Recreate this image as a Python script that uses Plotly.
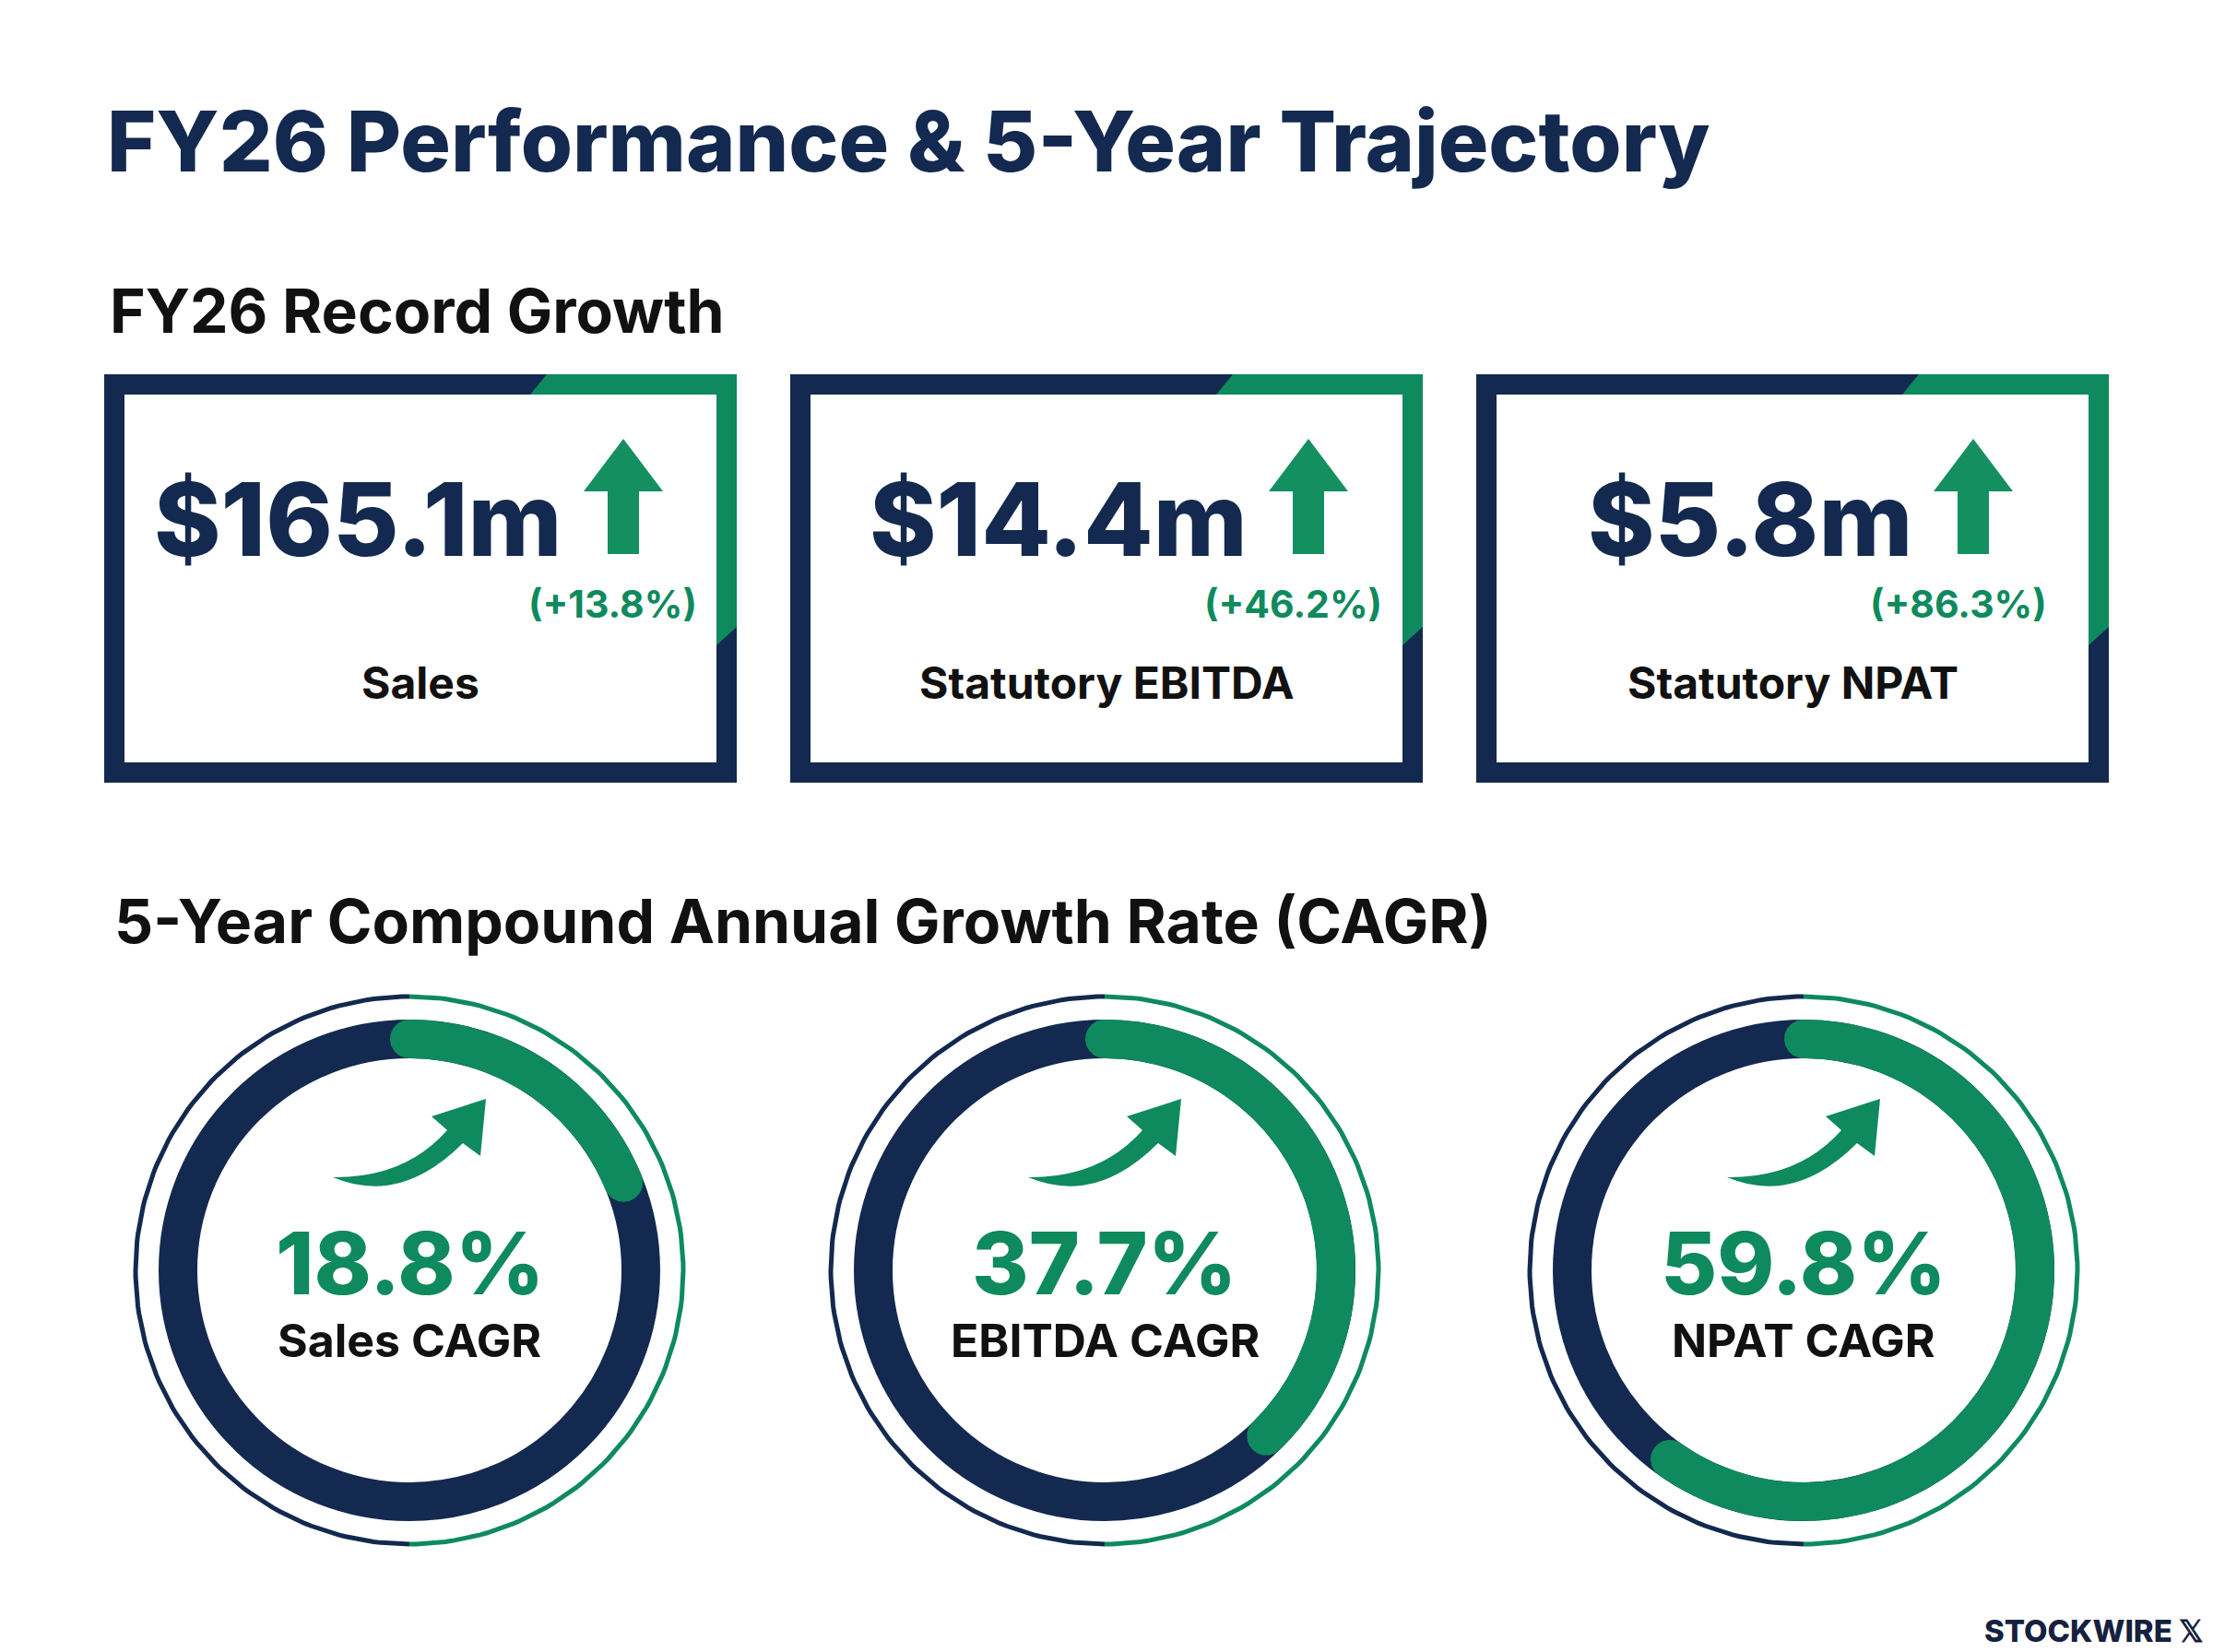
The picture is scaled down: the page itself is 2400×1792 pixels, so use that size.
import math
import plotly.graph_objects as go

# ---------------- data ----------------
card_values = ["$165.1m", "$14.4m", "$5.8m"]
card_growth = [13.8, 46.2, 86.3]
card_labels = ["Sales", "Statutory EBITDA", "Statutory NPAT"]
cagr_values = [18.8, 37.7, 59.8]
cagr_labels = ["Sales CAGR", "EBITDA CAGR", "NPAT CAGR"]

title_text = "FY26 Performance & 5-Year Trajectory"
section1_text = "FY26 Record Growth"
section2_text = "5-Year Compound Annual Growth Rate (CAGR)"
brand_text = "STOCKWIRE 𝕏"

# ---------------- layout constants ----------------
W, H = 2400, 1792
NAVY = "#13294F"
GREEN = "#0E8A5E"
TEXT = "#111111"
FONT = "Inter"

card_left = [113, 857, 1601]
card_w = 686
card_top, card_bottom = 406, 849
border = 22
arrow_offset = [220, 219, 196]  # arrow centre from card centre

circle_cx = [444, 1198, 1956]
circle_cy = 1378
r_thin = 297
thin_w = 5
r_mid = 251
ring_w = 42

fig = go.Figure()
shapes = []
annotations = []


def ann(text, x, y, size, color, weight=700, xanchor="center"):
    annotations.append(dict(
        text=text, x=x, y=y, xref="x", yref="y", showarrow=False,
        xanchor=xanchor, yanchor="middle",
        font=dict(family=FONT, size=size, color=color, weight=weight)))


# ---------------- titles ----------------
ann(title_text, 114, 153, 91, NAVY, 800, "left")
ann(section1_text, 117, 337, 66, TEXT, 700, "left")
ann(section2_text, 122, 999, 66, TEXT, 700, "left")

# ---------------- KPI cards ----------------
for i in range(3):
    L = card_left[i]
    R = L + card_w
    T, B = card_top, card_bottom
    h = border / 2
    shapes.append(dict(type="rect", xref="x", yref="y", x0=L + h, x1=R - h,
                       y0=T + h, y1=B - h, line=dict(color=NAVY, width=border),
                       fillcolor="white", layer="below"))
    # green corner accent
    p = (f"M {R-206},{T} L {R},{T} L {R},{T+274} L {R-border},{T+294} "
         f"L {R-border},{T+border} L {R-224},{T+border} Z")
    shapes.append(dict(type="path", xref="x", yref="y", path=p,
                       fillcolor=GREEN, line=dict(width=0)))
    cxc = (L + R) / 2
    acx = cxc + arrow_offset[i]
    # up arrow
    ap = (f"M {acx},476 L {acx+43},533 L {acx+17},533 L {acx+17},601 "
          f"L {acx-17},601 L {acx-17},533 L {acx-43},533 Z")
    shapes.append(dict(type="path", xref="x", yref="y", path=ap,
                       fillcolor="#138F60", line=dict(width=0)))
    ann(card_values[i], acx - 64, 563, 110, NAVY, 800, "right")
    ann(f"(+{card_growth[i]:.1f}%)", acx + 82, 655, 41, GREEN, 700, "right")
    ann(card_labels[i], cxc, 740, 48, TEXT, 700)

# ---------------- CAGR gauges ----------------
def pt(cx, cy, r, deg):
    a = math.radians(deg)
    return cx + r * math.sin(a), cy - r * math.cos(a)


for i in range(3):
    cx, cy = circle_cx[i], circle_cy
    # thin outer ring: left half navy, right half green
    for a0, a1, col in ((0, 180, GREEN), (180, 360, NAVY)):
        angs = [a0 + (a1 - a0) * k / 120 for k in range(121)]
        xs, ys = zip(*[pt(cx, cy, r_thin, a) for a in angs])
        fig.add_trace(go.Scatter(x=xs, y=ys, mode="lines",
                                 line=dict(color=col, width=thin_w),
                                 hoverinfo="skip"))
    # navy track
    shapes.append(dict(type="circle", xref="x", yref="y",
                       x0=cx - r_mid, x1=cx + r_mid, y0=cy - r_mid, y1=cy + r_mid,
                       line=dict(color=NAVY, width=ring_w), layer="below"))
    # green progress arc with round caps
    end = 360 * cagr_values[i] / 100
    ro, ri, hw = r_mid + ring_w / 2, r_mid - ring_w / 2, ring_w / 2
    n = 200
    poly = [pt(cx, cy, ro, end * k / n) for k in range(n + 1)]
    ea = math.radians(end)
    ux, uy = math.sin(ea), -math.cos(ea)
    tx, ty = math.cos(ea), math.sin(ea)
    px, py = pt(cx, cy, r_mid, end)
    for k in range(1, 40):
        f = math.pi * k / 40
        poly.append((px + hw * (math.cos(f) * ux + math.sin(f) * tx),
                     py + hw * (math.cos(f) * uy + math.sin(f) * ty)))
    poly += [pt(cx, cy, ri, end * k / n) for k in range(n, -1, -1)]
    sx, sy = pt(cx, cy, r_mid, 0)
    for k in range(1, 40):
        f = math.pi * k / 40
        poly.append((sx - hw * math.sin(f), sy + hw * math.cos(f)))
    xs, ys = zip(*poly)
    fig.add_trace(go.Scatter(x=list(xs) + [xs[0]], y=list(ys) + [ys[0]],
                             mode="lines", fill="toself", fillcolor=GREEN,
                             line=dict(color=GREEN, width=0), hoverinfo="skip"))
    # curved growth arrow
    def P(dx, dy):
        return f"{cx+dx:.1f},{cy+dy:.1f}"
    cp = (f"M {P(-83,-101)} Q {P(-10,-70)} {P(58,-138)} L {P(77,-124)} "
          f"L {P(83,-186)} L {P(24,-167)} L {P(41,-152)} Q {P(-5,-100)} {P(-83,-101)} Z")
    shapes.append(dict(type="path", xref="x", yref="y", path=cp,
                       fillcolor=GREEN, line=dict(width=0)))
    ann(f"{cagr_values[i]:.1f}%", cx, 1370, 94, GREEN, 800)
    ann(cagr_labels[i], cx, 1454, 50, TEXT, 700)

# ---------------- brand ----------------
ann(brand_text, 2392, 1769, 33, "#15213F", 800, "right")

fig.update_layout(
    width=W, height=H, margin=dict(l=0, r=0, t=0, b=0),
    paper_bgcolor="white", plot_bgcolor="white", showlegend=False,
    xaxis=dict(range=[0, W], visible=False, fixedrange=True),
    yaxis=dict(range=[H, 0], visible=False, fixedrange=True),
    shapes=shapes, annotations=annotations,
)

fig.write_html("out.html", config={"displayModeBar": False},
               post_script="document.body.style.margin='0';document.body.style.overflow='hidden';")
